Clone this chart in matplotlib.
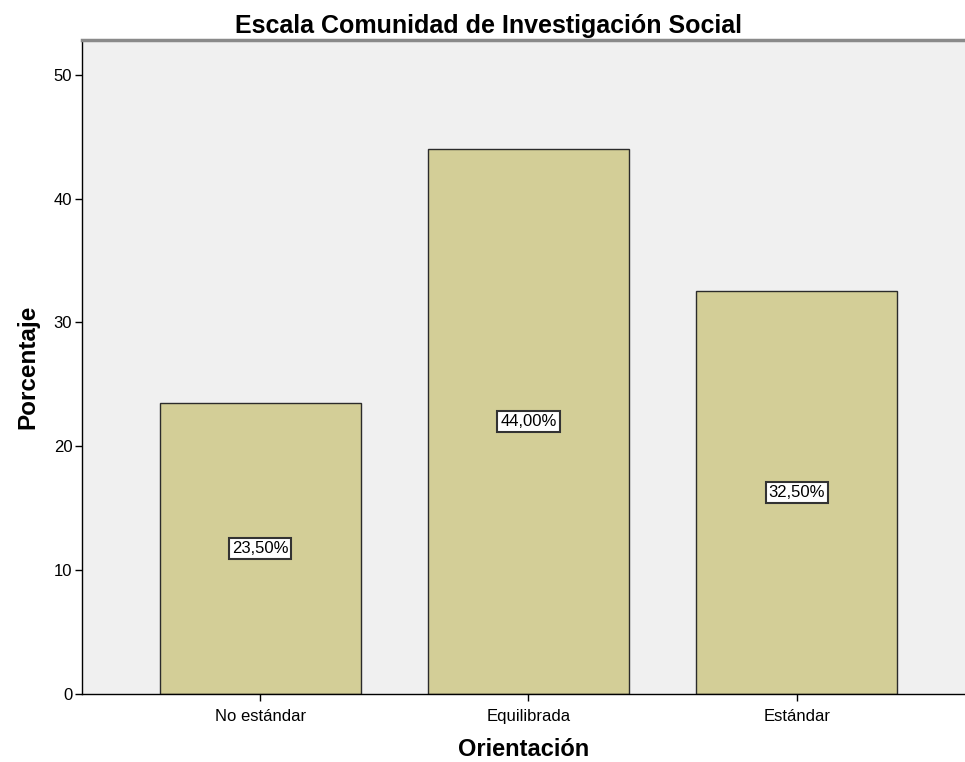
import numpy as np
import matplotlib.pyplot as plt

categories = ['No estándar', 'Equilibrada', 'Estándar']
porcentajes = [23.5, 44.0, 32.5]
etiquetas = ['23,50%', '44,00%', '32,50%']
yticks = [0, 10, 20, 30, 40, 50]

plt.rcParams['font.family'] = ['Liberation Sans', 'DejaVu Sans']

fig = plt.figure(figsize=(9.65, 7.62), dpi=100)
ax = fig.add_axes([82 / 965, 68 / 762, 1 - 82 / 965, 654 / 762])
ax.set_facecolor('#f0f0f0')

x = np.arange(len(categories))
ax.bar(x, porcentajes, width=0.75, color='#d3ce97', edgecolor='#2b2b2b', linewidth=1.0)

for xi, v, lab in zip(x, porcentajes, etiquetas):
    ax.text(xi, v / 2, lab, ha='center', va='center', fontsize=12,
            bbox=dict(boxstyle='square,pad=0.18', facecolor='white',
                      edgecolor='#333333', linewidth=1.5))

ax.set_xlim(-0.664, 2.627)
ax.set_ylim(0, 52.8)
ax.set_yticks(yticks)
ax.set_xticks(x)
ax.set_xticklabels(categories, fontsize=12)
ax.tick_params(axis='y', labelsize=12, direction='out', length=5, width=1, pad=2)
ax.tick_params(axis='x', direction='out', length=5, width=1, pad=6)

ax.spines['right'].set_visible(False)
ax.spines['top'].set_color('#8a8a8a')
ax.spines['top'].set_linewidth(2.5)
ax.spines['left'].set_linewidth(1)
ax.spines['bottom'].set_linewidth(1)

ax.set_ylabel('Porcentaje', fontsize=17.5, fontweight='bold', labelpad=10)
ax.set_xlabel('Orientación', fontsize=17, fontweight='bold', labelpad=10)
fig.text(0.506, 0.966, 'Escala Comunidad de Investigación Social', fontsize=18,
         fontweight='bold', ha='center', va='center')

fig.savefig('out.png', dpi=100)
